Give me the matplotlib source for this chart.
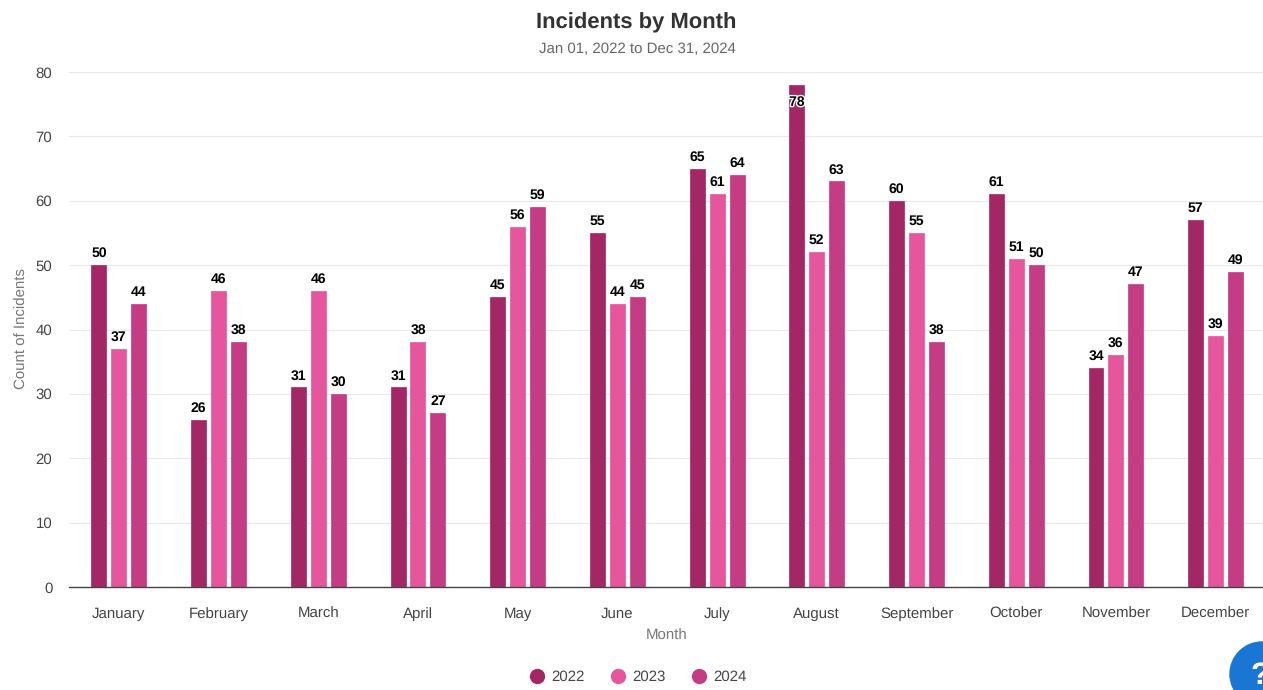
import numpy as np
import matplotlib
matplotlib.use('Agg')
import matplotlib.pyplot as plt
from matplotlib.lines import Line2D
from matplotlib.patches import Circle
import matplotlib.patheffects as pe

months = ['January', 'February', 'March', 'April', 'May', 'June', 'July',
          'August', 'September', 'October', 'November', 'December']
years = ['2022', '2023', '2024']
v2022 = [50, 26, 31, 31, 45, 55, 65, 78, 60, 61, 34, 57]
v2023 = [37, 46, 46, 38, 56, 44, 61, 52, 55, 51, 36, 39]
v2024 = [44, 38, 30, 27, 59, 45, 64, 63, 38, 50, 47, 49]
colors = ['#A32765', '#E5569C', '#C43C84']

plt.rcParams['font.family'] = ['Liberation Sans', 'DejaVu Sans']
plt.rcParams['text.hinting'] = 'no_hinting'
plt.rcParams['text.hinting_factor'] = 1

W, H = 1263, 690
fig = plt.figure(figsize=(W / 100, H / 100), dpi=100)
# axes placed by pixel: y=0 at 587, y=80 at 72
ax = fig.add_axes([69 / W, 1 - 587 / H, (W - 69) / W, (587 - 72) / H])
ax.set_xlim(-0.5, 11.475)
ax.set_ylim(0, 80)

x = np.arange(len(months))
offset = 0.2
width = 0.15

for i, vals in enumerate([v2022, v2023, v2024]):
    xs = x + (i - 1) * offset
    ax.bar(xs, vals, width=width, color=colors[i], edgecolor=colors[i],
           linewidth=0.5, joinstyle='round', zorder=3)
    for a, b in zip(xs, vals):
        if b == 78:
            # no room above the top bar so it sits inside with a white halo
            ax.text(a, b - 2.7, str(b), ha='center', va='center', fontsize=10,
                    fontweight='bold', color='black', zorder=5,
                    path_effects=[pe.withStroke(linewidth=2, foreground='white')])
        else:
            ax.text(a, b + 0.8, str(b), ha='center', va='bottom', fontsize=10,
                    fontweight='bold', color='black', zorder=5)

ax.set_yticks(range(0, 81, 10))
ax.set_xticks(x)
ax.set_xticklabels(months)
ax.tick_params(axis='both', length=0, labelsize=10.5, labelcolor='#444444')
ax.tick_params(axis='x', pad=14.5)
ax.tick_params(axis='y', pad=12)
ax.grid(axis='y', color='#E8E8E8', linewidth=0.8, zorder=0)
ax.set_axisbelow(True)
for s in ['top', 'right', 'left']:
    ax.spines[s].set_visible(False)
ax.spines['bottom'].set_color('#444444')
ax.spines['bottom'].set_linewidth(1.0)
ax.spines['bottom'].set_zorder(6)

fig.text(636 / W, 1 - 22.5 / H, 'Incidents by Month', ha='center', va='center',
         fontsize=16, fontweight='bold', color='#333333')
fig.text(637 / W, 1 - 49 / H, 'Jan 01, 2022 to Dec 31, 2024', ha='center', va='center',
         fontsize=10.5, color='#666666')
fig.text(667 / W, 1 - 636 / H, 'Month', ha='center', va='center',
         fontsize=10.5, color='#777777')
fig.text(22 / W, 1 - 329 / H, 'Count of Incidents', ha='center', va='center',
         rotation=90, fontsize=10.5, color='#777777')

handles = [Line2D([], [], linestyle='none', marker='o', markersize=10, color=c) for c in colors]
fig.legend(handles, years, loc='center', bbox_to_anchor=(634.5 / W, 1 - 677 / H), ncol=3,
           frameon=False, fontsize=10.5, labelcolor='#444444', handletextpad=0.0,
           columnspacing=1.25)

# help badge in the bottom right corner
fig.add_artist(Circle((1262, H - 674), 32, transform=None, color='#1976D2', zorder=10))
fig.text(1251 / W, 1 - 676 / H, '?', ha='left', va='center', fontsize=22,
         fontweight='bold', color='white', zorder=11)

fig.savefig('out.png', dpi=100)
